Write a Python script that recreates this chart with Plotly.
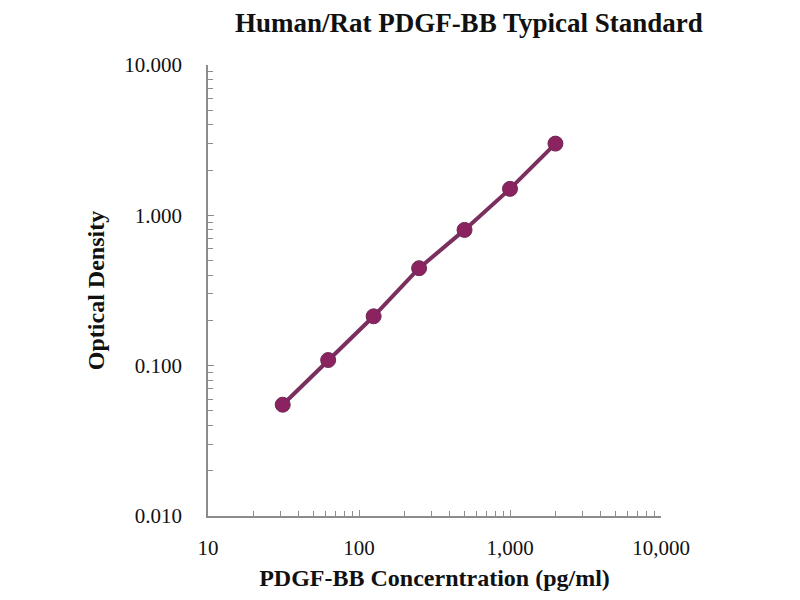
import plotly.graph_objects as go

# standard curve points
concentration = [31.25, 62.5, 125, 250, 500, 1000, 2000]
optical_density = [0.055, 0.109, 0.213, 0.445, 0.80, 1.50, 3.00]

x_ticks = [10, 100, 1000, 10000]
x_labels = ["10", "100", "1,000", "10,000"]
y_ticks = [0.01, 0.1, 1, 10]
y_labels = ["0.010", "0.100", "1.000", "10.000"]

serif = "Liberation Serif, Times New Roman, serif"

fig = go.Figure(go.Scatter(
    x=concentration,
    y=optical_density,
    mode="lines+markers",
    line=dict(color="#7a2f5e", width=4),
    marker=dict(color="#8a2360", size=15, line=dict(color="#6e2a55", width=1)),
    showlegend=False,
))

axis_common = dict(
    type="log",
    showgrid=False,
    zeroline=False,
    showline=True,
    linecolor="#8c8c8c",
    linewidth=1.5,
    ticks="inside",
    ticklen=6,
    tickcolor="#8c8c8c",
    tickfont=dict(family=serif, size=21, color="#111"),
    minor=dict(ticks="inside", ticklen=5, tickcolor="#8c8c8c", dtick="D1", showgrid=False),
)

fig.update_xaxes(
    **axis_common,
    range=[1, 4],
    tickvals=x_ticks,
    ticktext=x_labels,
    ticklabelstandoff=12,
    title=dict(text="<b>PDGF-BB Concerntration (pg/ml)</b>",
               font=dict(family=serif, size=24, color="#111"), standoff=10),
)
fig.update_yaxes(
    **axis_common,
    range=[-2, 1],
    tickvals=y_ticks,
    ticktext=y_labels,
    ticklabelstandoff=20,
    title=dict(text="<b>Optical Density</b>",
               font=dict(family=serif, size=24, color="#111"), standoff=13),
)

# page body adds ~8px offset, margins compensate for it
fig.update_layout(
    width=800,
    height=600,
    paper_bgcolor="white",
    plot_bgcolor="white",
    margin=dict(l=200, r=147, t=57, b=92),
    title=dict(text="<b>Human/Rat PDGF-BB Typical Standard</b>",
               font=dict(family=serif, size=27, color="#111"),
               x=0.576, xanchor="center", y=0.976, yanchor="middle"),
)

fig.write_html("out.html")
